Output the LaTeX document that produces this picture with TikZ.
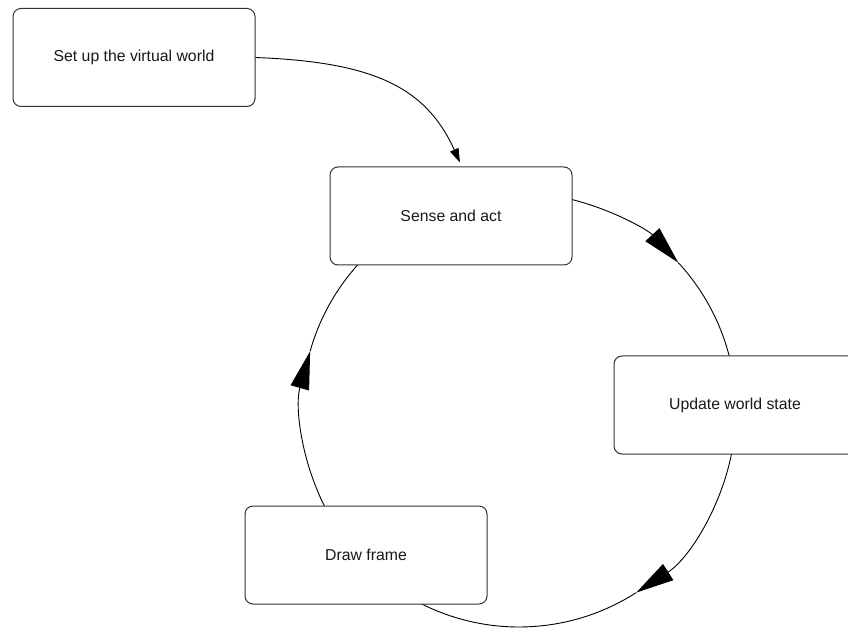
\documentclass[tikz,border=0pt]{standalone}
\usepackage{fontspec}
\setmainfont{Liberation Sans}
\usetikzlibrary{arrows.meta}
\pgfdeclarelayer{bg}
\pgfsetlayers{bg,main}
\begin{document}
\begin{tikzpicture}[x=1pt,y=1pt,
  box/.style={draw=black!80, line width=1pt, rounded corners=8pt, fill=white,
    minimum width=242pt, minimum height=98pt, inner sep=0pt,
    font=\fontsize{15.8pt}{19pt}\selectfont, text=black!90},
  flow/.style={line width=0.9pt, draw=black},
  bigtip/.style={-{Triangle[length=38pt,width=19pt]}},
  smalltip/.style={-{Triangle[length=14pt,width=9pt]}}
]
\clip (0,0) rectangle (848,627);
\useasboundingbox (0,0) rectangle (848,627);

\node[box] (setup)  at (134,569.5) {Set up the virtual world};
\node[box] (sense)  at (451,411)   {Sense and act};
\node[box] (update) at (735,222)   {Update world state};
\node[box] (frame)  at (366,72)    {Draw frame};

\coordinate (ctr) at (519,217);

\begin{pgfonlayer}{bg}
  % Sense -> Update
  \draw[flow, bigtip] ([shift={(78:217pt)}]ctr) arc[start angle=78, end angle=42.8, radius=217pt] coordinate (t1);
  \draw[flow] (t1) arc[start angle=42.8, end angle=10, radius=217pt];
  % Update -> Draw frame
  \draw[flow, bigtip] ([shift={(-8:217pt)}]ctr) arc[start angle=-8, end angle=-57.3, radius=217pt] coordinate (t2);
  \draw[flow] (t2) arc[start angle=-57.3, end angle=-120, radius=217pt];
  % Draw frame -> Sense
  \draw[flow, bigtip] ([shift={(210:217pt)}]ctr) arc[start angle=210, end angle=164.3, radius=217pt] coordinate (t3);
  \draw[flow] (t3) arc[start angle=164.3, end angle=134, radius=217pt];
\end{pgfonlayer}

\draw[flow, smalltip] (setup.east) .. controls (370,565) and (425,542) .. ([shift={(9pt,4pt)}]sense.north);
\end{tikzpicture}
\end{document}
